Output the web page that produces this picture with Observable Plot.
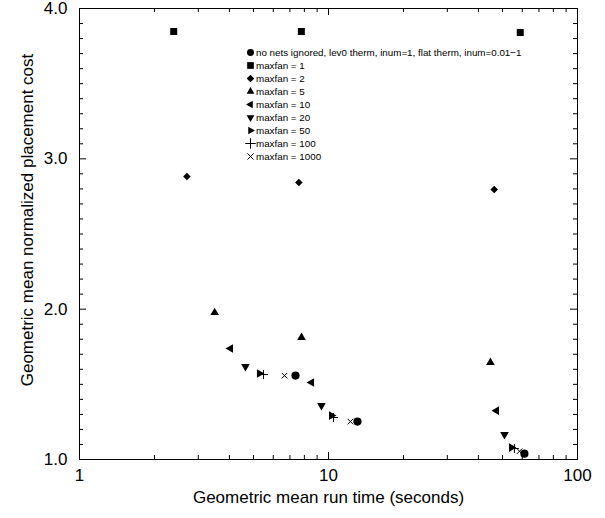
<!DOCTYPE html>
<html><head><meta charset="utf-8">
<script src="https://cdn.jsdelivr.net/npm/d3@7"></script>
<script src="https://cdn.jsdelivr.net/npm/@observablehq/plot@0.6"></script>
<style>
body{margin:0;background:#fff}
#wrap{position:relative;width:605px;height:518px;font-family:"Liberation Sans",Arial,sans-serif;color:#000}
.leg{position:absolute;left:246px;top:45.8px;font-size:9.8px;line-height:13.05px;white-space:nowrap}
.row{display:flex;align-items:center;height:13.05px}
.row svg{width:9px;height:9px;margin-right:1px;overflow:visible}
</style>
</head><body><div id="wrap"></div>
<script>
// Series labels (legend order)
const labels = [
  "no nets ignored, lev0 therm, inum=1, flat therm, inum=0.01\u22121",
  "maxfan = 1", "maxfan = 2", "maxfan = 5", "maxfan = 10",
  "maxfan = 20", "maxfan = 50", "maxfan = 100", "maxfan = 1000"
];
// Geometric mean run time (seconds) per series
const timeNoNets = [7.37, 13.07, 61.2];
const timeMax1 = [2.39, 7.78, 58.9];
const timeMax2 = [2.70, 7.60, 46.3];
const timeMax5 = [3.49, 7.79, 44.7];
const timeMax10 = [4.04, 8.55, 47.3];
const timeMax20 = [4.64, 9.37, 50.9];
const timeMax50 = [5.28, 10.28, 54.3];
const timeMax100 = [5.48, 10.47, 55.8];
const timeMax1000 = [6.66, 12.25, 58.5];
// Geometric mean normalized placement cost per series
const costNoNets = [1.558, 1.252, 1.039];
const costMax1 = [3.847, 3.847, 3.840];
const costMax2 = [2.882, 2.842, 2.796];
const costMax5 = [1.977, 1.811, 1.645];
const costMax10 = [1.738, 1.512, 1.325];
const costMax20 = [1.618, 1.359, 1.166];
const costMax50 = [1.572, 1.292, 1.079];
const costMax100 = [1.565, 1.279, 1.073];
const costMax1000 = [1.558, 1.252, 1.055];
// Tick values
const xMajor = [1, 10, 100];
const xMinor = [2, 3, 4, 5, 6, 7, 8, 9, 20, 30, 40, 50, 60, 70, 80, 90];
const yMajor = [1, 2, 3, 4];
const yMinor = [1.1,1.2,1.3,1.4,1.5,1.6,1.7,1.8,1.9,2.1,2.2,2.3,2.4,2.5,2.6,2.7,2.8,2.9,3.1,3.2,3.3,3.4,3.5,3.6,3.7,3.8,3.9];

const times = [timeNoNets, timeMax1, timeMax2, timeMax5, timeMax10, timeMax20, timeMax50, timeMax100, timeMax1000];
const costs = [costNoNets, costMax1, costMax2, costMax5, costMax10, costMax20, costMax50, costMax100, costMax1000];
const symbols = ["circle", "square", "diamond2", "triangle", "triangle", "triangle", "triangle", "plus", "times"];
const rotations = [0, 0, 0, 0, -90, 180, 90, 0, 0];
const radii = [4.1, 3.95, 3.4, 3.2, 3.2, 3.2, 3.2, 3.0, 2.6];

const W = 605, H = 518, mL = 79, mR = 28, mT = 8, mB = 59;
const fw = W - mL - mR, fh = H - mT - mB;

const seriesMarks = labels.map((lab, i) => {
  const rows = times[i].map((t, j) => ({x: t, y: costs[i][j], series: lab}));
  const stroked = symbols[i] === "plus" || symbols[i] === "times";
  return Plot.dot(rows, {
    x: "x", y: "y", symbol: symbols[i], rotate: rotations[i], r: radii[i],
    fill: stroked ? "none" : "black", stroke: stroked ? "black" : "none", strokeWidth: 1
  });
});

// inward tick marks on all four sides
const tickMarks = [
  Plot.tickX(xMajor, {x: d => d, insetTop: fh - 7, stroke: "black"}),
  Plot.tickX(xMinor, {x: d => d, insetTop: fh - 4, stroke: "black"}),
  Plot.tickX(xMajor, {x: d => d, insetBottom: fh - 7, stroke: "black"}),
  Plot.tickX(xMinor, {x: d => d, insetBottom: fh - 4, stroke: "black"}),
  Plot.tickY(yMajor, {y: d => d, insetRight: fw - 7, stroke: "black"}),
  Plot.tickY(yMinor, {y: d => d, insetRight: fw - 4, stroke: "black"}),
  Plot.tickY(yMajor, {y: d => d, insetLeft: fw - 7, stroke: "black"}),
  Plot.tickY(yMinor, {y: d => d, insetLeft: fw - 4, stroke: "black"})
];

const chart = Plot.plot({
  width: W, height: H,
  marginLeft: mL, marginRight: mR, marginTop: mT, marginBottom: mB,
  style: {fontFamily: "'Liberation Sans', Arial, sans-serif", background: "white", color: "black"},
  x: {type: "log", domain: [1, 100]},
  y: {domain: [1, 4]},
  marks: [
    Plot.frame({stroke: "black", strokeWidth: 1}),
    Plot.axisX({ticks: xMajor, anchor: "bottom", tickSize: 0, tickPadding: 9, fontSize: 17, tickFormat: d => String(d), label: null}),
    Plot.axisY({ticks: yMajor, anchor: "left", tickSize: 0, tickPadding: 12, fontSize: 17, tickFormat: d3.format(".1f"), label: null}),
    ...tickMarks,
    Plot.text(["Geometric mean run time (seconds)"], {frameAnchor: "bottom", dy: 43, fontSize: 17, fill: "black", textAnchor: "middle"}),
    Plot.text(["Geometric mean normalized placement cost"], {frameAnchor: "left", dx: -52, dy: -14, rotate: -90, fontSize: 17, fill: "black", textAnchor: "middle"}),
    ...seriesMarks
  ]
});
const wrap = document.getElementById("wrap");
wrap.append(chart);

// Legend overlay inside the plot area
const symSize = [38, 45, 37, 26, 26, 26, 26, 38, 26];
const d3sym = {circle: d3.symbolCircle, square: d3.symbolSquare, diamond2: d3.symbolDiamond2, triangle: d3.symbolTriangle, plus: d3.symbolPlus, times: d3.symbolTimes};
const leg = d3.select(wrap).append("div").attr("class", "leg");
labels.forEach((lab, i) => {
  const row = leg.append("div").attr("class", "row");
  const svg = row.append("svg").attr("viewBox", "-4.5 -4.5 9 9");
  const stroked = symbols[i] === "plus" || symbols[i] === "times";
  svg.append("path")
    .attr("d", d3.symbol(d3sym[symbols[i]], symSize[i])())
    .attr("transform", `rotate(${rotations[i]})`)
    .attr("fill", stroked ? "none" : "black")
    .attr("stroke", stroked ? "black" : "none");
  row.append("span").text(lab);
});
</script>
</body></html>
